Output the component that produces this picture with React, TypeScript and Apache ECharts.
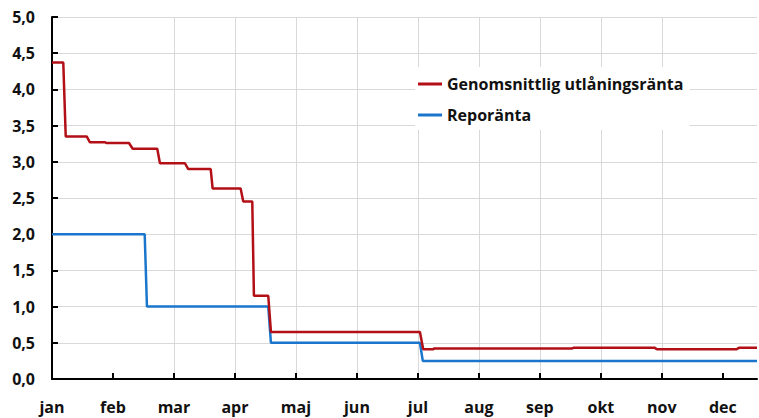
import React, { useEffect, useRef } from "react";
import * as echarts from "echarts";

const months = ["jan", "feb", "mar", "apr", "maj", "jun", "jul", "aug", "sep", "okt", "nov", "dec"];

// x in month units (0 = start of jan)
const lendingX = [0, 0.185, 0.225, 0.569, 0.62, 0.87, 0.89, 1.262, 1.323, 1.726, 1.77, 2.18, 2.234, 2.602, 2.634, 3.093, 3.136, 3.284, 3.311, 3.546, 3.59, 6.033, 6.087, 6.251, 6.262, 8.52, 8.55, 9.885, 9.918, 11.225, 11.262, 11.56];
const lendingY = [4.37, 4.37, 3.35, 3.35, 3.27, 3.27, 3.26, 3.26, 3.18, 3.18, 2.98, 2.98, 2.9, 2.9, 2.63, 2.63, 2.45, 2.45, 1.15, 1.15, 0.65, 0.65, 0.41, 0.41, 0.42, 0.42, 0.43, 0.43, 0.41, 0.41, 0.43, 0.43];

const repoX = [0, 1.52, 1.557, 3.546, 3.59, 6.033, 6.08, 11.56];
const repoY = [2.0, 2.0, 1.0, 1.0, 0.5, 0.5, 0.25, 0.25];

const seriesNames = ["Genomsnittlig utlåningsränta", "Reporänta"];
const seriesColors = ["#B30F16", "#1A76CC"];

const FONT = "'Open Sans', 'Noto Sans', sans-serif";

export default function App() {
  const ref = useRef<HTMLDivElement>(null);
  useEffect(() => {
    document.body.style.margin = "0";
    const chart = echarts.init(ref.current!, null, { renderer: "svg" });
    const zip = (xs: number[], ys: number[]) => xs.map((x, i) => [x, ys[i]]);
    const labelStyle = { fontSize: 16, fontWeight: 700, color: "#111", fontFamily: FONT };
    chart.setOption({
      animation: false,
      backgroundColor: "#fff",
      grid: { left: 52, right: 2, top: 17, bottom: 39, containLabel: false },
      legend: {
        orient: "vertical",
        left: 415,
        top: 67,
        backgroundColor: "#fff",
        padding: [9, 6, 7, 3],
        itemGap: 15,
        itemWidth: 24,
        itemHeight: 3,
        icon: "rect",
        data: seriesNames,
        textStyle: { ...labelStyle },
      },
      xAxis: {
        type: "value",
        min: 0,
        max: 11.56,
        interval: 1,
        axisLine: { show: true, lineStyle: { color: "#000", width: 2 } },
        axisTick: {
          show: true,
          inside: true,
          length: 6,
          customValues: [1, 2, 3, 4, 5, 6, 7, 8, 9, 10, 11],
          lineStyle: { color: "#000", width: 2 },
        },
        axisLabel: {
          ...labelStyle,
          margin: 20,
          customValues: [0, 1, 2, 3, 4, 5, 6, 7, 8, 9, 10, 11],
          formatter: (v: number) => months[Math.round(v)] ?? "",
        },
        splitLine: {
          show: true,
          showMinLine: false,
          showMaxLine: false,
          lineStyle: { color: "#d9d9d9", width: 1 },
        },
      },
      yAxis: {
        type: "value",
        min: 0,
        max: 5,
        interval: 0.5,
        axisLine: { show: true, lineStyle: { color: "#000", width: 2 } },
        axisTick: { show: true, inside: true, length: 6, lineStyle: { color: "#000", width: 2 } },
        axisLabel: {
          ...labelStyle,
          margin: 17,
          formatter: (v: number) => v.toFixed(1).replace(".", ","),
        },
        splitLine: {
          show: true,
          showMinLine: false,
          lineStyle: { color: "#d9d9d9", width: 1 },
        },
      },
      series: [
        {
          name: seriesNames[0],
          type: "line",
          data: zip(lendingX, lendingY),
          showSymbol: false,
          symbol: "none",
          color: seriesColors[0],
          lineStyle: { color: seriesColors[0], width: 2.5 },
          z: 3,
        },
        {
          name: seriesNames[1],
          type: "line",
          data: zip(repoX, repoY),
          showSymbol: false,
          symbol: "none",
          color: seriesColors[1],
          lineStyle: { color: seriesColors[1], width: 2.5 },
          z: 2,
        },
      ],
    });
    return () => chart.dispose();
  }, []);
  return (
    <div
      ref={ref}
      style={{ position: "fixed", left: 0, top: 0, width: 759, height: 418 }}
    />
  );
}
